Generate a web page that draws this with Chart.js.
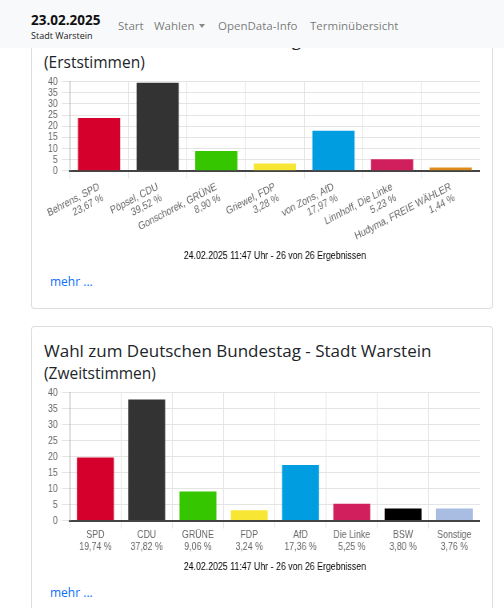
<!DOCTYPE html>
<html lang="de">
<head>
<meta charset="utf-8">
<title>Wahl zum Deutschen Bundestag - Stadt Warstein</title>
<script src="https://cdn.jsdelivr.net/npm/chart.js@4/dist/chart.umd.min.js"></script>
<style>
body { margin:0; background:#fff; font-family:"Open Sans","Noto Sans",sans-serif; color:#212529; overflow:hidden; }
.navbar { position:fixed; top:0; left:0; right:0; height:48px; background:#f8f9fa; z-index:10; }
.brand { position:absolute; left:31px; top:11px; }
.brand b { display:block; font-size:13.5px; line-height:19px; font-weight:700; color:#111; }
.brand small { display:block; font-size:9px; line-height:12px; color:#222; }
.navbar a { position:absolute; top:16px; font-size:11.5px; line-height:20px; color:rgba(0,0,0,.55); text-decoration:none; }
.caret { display:inline-block; margin-left:5px; vertical-align:2px; border-top:4px solid rgba(0,0,0,.45); border-left:3.5px solid transparent; border-right:3.5px solid transparent; }
.card { position:absolute; left:31px; width:460px; border:1px solid rgba(0,0,0,.13); border-radius:4px; background:#fff; }
.card-body { padding:11px 12px 17px 12px; }
h5 { margin:0; font-size:17px; line-height:25px; font-weight:500; }
h6 { margin:0; font-size:15.5px; line-height:20px; font-weight:500; }
.chartbox { width:436px; height:201px; margin-top:-2px; margin-bottom:-2px; }
.chartbox canvas { width:436px !important; height:201px !important; }
.mehr { display:inline-block; margin-left:6px; font-size:12px; line-height:18px; color:#0d6efd; text-decoration:none; }
</style>
</head>
<body>
<div class="navbar">
  <div class="brand"><b>23.02.2025</b><small>Stadt Warstein</small></div>
  <a style="left:118px" href="#">Start</a>
  <a style="left:154px" href="#">Wahlen<span class="caret"></span></a>
  <a style="left:218px" href="#">OpenData-Info</a>
  <a style="left:310px" href="#">Terminübersicht</a>
</div>

<div class="card" style="top:15px">
  <div class="card-body">
    <h5>Wahl zum Deutschen Bundestag - Wahlkreis Soest</h5>
    <h6>(Erststimmen)</h6>
    <div class="chartbox"><canvas id="erst" width="545" height="201"></canvas></div>
    <a class="mehr" href="#">mehr ...</a>
  </div>
</div>

<div class="card" style="top:326px">
  <div class="card-body">
    <h5>Wahl zum Deutschen Bundestag - Stadt Warstein</h5>
    <h6>(Zweitstimmen)</h6>
    <div class="chartbox"><canvas id="zweit" width="545" height="201"></canvas></div>
    <a class="mehr" href="#">mehr ...</a>
  </div>
</div>

<script>
// Erststimmen
const erstNames = ["Behrens, SPD", "Pöpsel, CDU", "Gonschorek, GRÜNE", "Griewel, FDP", "von Zons, AfD", "Linnhoff, Die Linke", "Hudyma, FREIE WÄHLER"];
const erstValues = [23.67, 39.52, 8.90, 3.28, 17.97, 5.23, 1.44];
const erstColors = ["#d5002b", "#333333", "#36c600", "#f8e634", "#009ee0", "#d01f5c", "#de8b1c"];

// Zweitstimmen
const zweitNames = ["SPD", "CDU", "GRÜNE", "FDP", "AfD", "Die Linke", "BSW", "Sonstige"];
const zweitValues = [19.74, 37.82, 9.06, 3.24, 17.36, 5.25, 3.80, 3.76];
const zweitColors = ["#d5002b", "#333333", "#36c600", "#f8e634", "#009ee0", "#d01f5c", "#000000", "#a9bde3"];

const yMax = 40;
const yStep = 5;
const stand = "24.02.2025 11:47 Uhr - 26 von 26 Ergebnissen";

Chart.defaults.font.family = "Arial, 'Liberation Sans', sans-serif";
Chart.defaults.font.size = 11;

function pct(v) {
    return v.toFixed(2).replace(".", ",") + " %";
}

// the canvas is drawn wider than shown and squeezed by css, like the original
function makeChart(id, names, values, colors, rotation, xHeight, xPad) {
    new Chart(document.getElementById(id), {
        type: "bar",
        data: {
            labels: names.map((n, i) => [n, pct(values[i])]),
            datasets: [{
                data: values,
                backgroundColor: colors,
                borderWidth: 0
            }]
        },
        options: {
            responsive: false,
            animation: false,
            plugins: {
                legend: { display: false },
                tooltip: { enabled: false },
                title: {
                    display: true,
                    position: "bottom",
                    fullSize: false,
                    text: stand,
                    color: "#000",
                    font: { size: 11, weight: "normal" },
                    padding: { top: 8, bottom: 8 }
                }
            },
            scales: {
                x: {
                    grid: { color: "#e4e4e4", tickLength: 8 },
                    border: { color: "#444", width: 2 },
                    ticks: {
                        color: "#666",
                        padding: xPad,
                        font: { size: 11, lineHeight: 1.1 },
                        minRotation: rotation,
                        maxRotation: rotation
                    },
                    afterFit: (scale) => {
                        if (xHeight) scale.height = xHeight;
                    }
                },
                y: {
                    min: 0,
                    max: yMax,
                    grid: { color: "#e4e4e4", tickLength: 10 },
                    border: { color: "#b0b0b0" },
                    ticks: { stepSize: yStep, color: "#666", padding: 5, autoSkip: false }
                }
            }
        }
    });
}

makeChart("erst", erstNames, erstValues, erstColors, 23, 71, 2);
makeChart("zweit", zweitNames, zweitValues, zweitColors, 0, 0, 0);
</script>
</body>
</html>
